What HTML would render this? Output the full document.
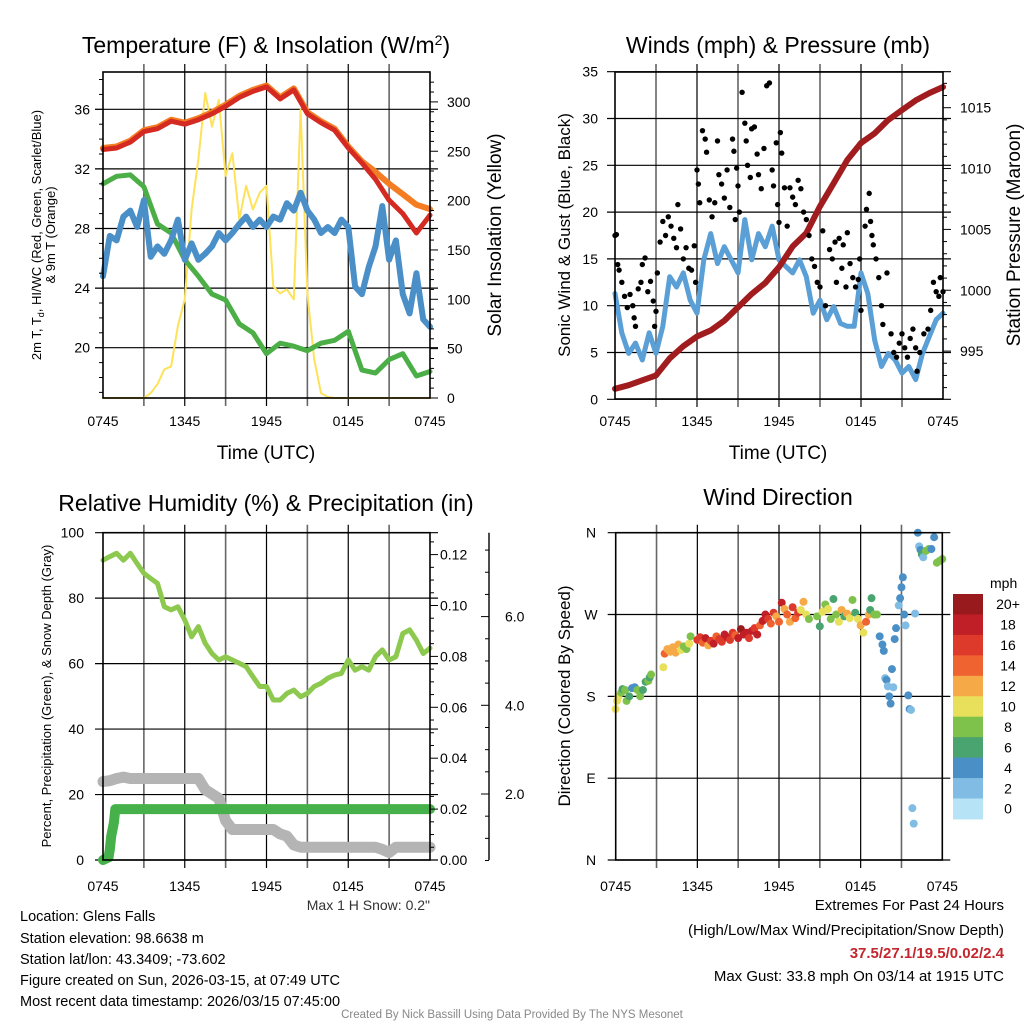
<!DOCTYPE html>
<html><head><meta charset="utf-8">
<style>
html,body{margin:0;padding:0;background:#fff;}
svg{display:block;font-family:"Liberation Sans",Arial,sans-serif;}
</style></head>
<body>
<svg id="fig" width="1024" height="1024" viewBox="0 0 1024 1024" xmlns="http://www.w3.org/2000/svg">
<rect width="1024" height="1024" fill="#fff"/>
<text x="266" y="53" font-size="23" text-anchor="middle">Temperature (F) &amp; Insolation (W/m<tspan baseline-shift="super" font-size="14">2</tspan>)</text>
<text x="778" y="53" font-size="23" text-anchor="middle">Winds (mph) &amp; Pressure (mb)</text>
<text x="266" y="511" font-size="23" text-anchor="middle">Relative Humidity (%) &amp; Precipitation (in)</text>
<text x="778" y="505" font-size="23" text-anchor="middle">Wind Direction</text>
<text x="266" y="459" font-size="19" text-anchor="middle">Time (UTC)</text>
<text x="778" y="459" font-size="19" text-anchor="middle">Time (UTC)</text>
<text transform="translate(41,235) rotate(-90)" font-size="13" text-anchor="middle">2m T, T<tspan font-size="9" dy="3">d</tspan><tspan dy="-3">, HI/WC (Red, Green, Scarlet/Blue)</tspan></text>
<text transform="translate(55,235) rotate(-90)" font-size="13" text-anchor="middle">&amp; 9m T (Orange)</text>
<text transform="translate(501,235) rotate(-90)" font-size="19" text-anchor="middle">Solar Insolation (Yellow)</text>
<text transform="translate(570,235) rotate(-90)" font-size="17" text-anchor="middle">Sonic Wind &amp; Gust (Blue, Black)</text>
<text transform="translate(1020,235) rotate(-90)" font-size="19" text-anchor="middle">Station Pressure (Maroon)</text>
<text transform="translate(51,696) rotate(-90)" font-size="13" text-anchor="middle">Percent, Precipitation (Green), &amp; Snow Depth (Gray)</text>
<text transform="translate(570,696) rotate(-90)" font-size="17" text-anchor="middle">Direction (Colored By Speed)</text>
<text x="430" y="910" font-size="14" text-anchor="end" fill="#333">Max 1 H Snow: 0.2"</text>
<g font-size="14.5">
<text x="20" y="921">Location: Glens Falls</text>
<text x="20" y="943">Station elevation: 98.6638 m</text>
<text x="20" y="964">Station lat/lon: 43.3409; -73.602</text>
<text x="20" y="985">Figure created on Sun, 2026-03-15, at 07:49 UTC</text>
<text x="20" y="1006">Most recent data timestamp: 2026/03/15 07:45:00</text>
</g>
<g font-size="15" text-anchor="end">
<text x="1004" y="910">Extremes For Past 24 Hours</text>
<text x="1004" y="935">(High/Low/Max Wind/Precipitation/Snow Depth)</text>
<text x="1004" y="958" fill="#c3272d" font-weight="bold">37.5/27.1/19.5/0.02/2.4</text>
<text x="1004" y="981">Max Gust: 33.8 mph On 03/14 at 1915 UTC</text>
</g>
<text x="512" y="1018" font-size="11.5" text-anchor="middle" fill="#888">Created By Nick Bassill Using Data Provided By The NYS Mesonet</text>
<g id="layer"></g>
</svg>
<script>
// ---- data ----
const hourly = [0,1,2,3,4,5,6,7,8,9,10,11,12,13,14,15,16,17,18,19,20,21,22,23,24];
const half = [0,0.5,1,1.5,2,2.5,3,3.5,4,4.5,5,5.5,6,6.5,7,7.5,8,8.5,9,9.5,10,10.5,11,11.5,12,12.5,13,13.5,14,14.5,15,15.5,16,16.5,17,17.5,18,18.5,19,19.5,20,20.5,21,21.5,22,22.5,23,23.5,24];
const timeLabels = ["0745","1345","1945","0145","0745"];
const tempT = [33.3,33.4,33.8,34.5,34.7,35.2,35.0,35.3,35.7,36.2,36.8,37.2,37.5,36.7,37.3,35.7,35.1,34.6,33.4,32.4,31.3,29.9,29.0,27.7,28.9];
const temp9m = [33.4,33.5,33.9,34.6,34.8,35.3,35.1,35.4,35.8,36.3,36.9,37.3,37.6,36.8,37.4,35.8,35.2,34.7,33.5,32.5,31.8,31.0,30.3,29.6,29.3];
const dewpt = [31.0,31.5,31.6,30.8,28.3,27.7,25.9,24.8,23.6,23.2,21.6,21.0,19.6,20.3,20.1,19.8,20.3,20.5,21.1,18.5,18.3,19.2,19.6,18.1,18.4];
const windChill = [24.8,27.5,27.2,28.8,29.2,28.1,29.9,26.1,26.8,26.3,27.2,28.6,25.9,27.0,25.9,26.3,26.8,27.7,27.2,27.7,28.3,28.8,28.1,28.6,28.1,28.8,28.6,29.7,29.2,30.4,29.2,28.6,27.7,28.1,27.7,28.6,28.1,24.1,23.6,25.4,26.8,29.5,25.9,27.2,23.6,22.3,25.0,21.9,21.4];
const insolation = [0,0,0,0,0,0,0,5,14,29,32,73,100,191,242,309,275,302,225,248,181,215,191,208,215,113,106,110,100,292,106,39,5,1,0,0,0,0,0,0,0,0,0,0,0,0,0,0,0];
const windSpeed = [11.3,7.1,4.9,6.0,4.2,7.1,4.9,7.8,13.1,12.0,13.5,10.6,9.2,14.9,17.7,14.5,16.3,14.9,13.5,19.2,14.9,17.7,16.3,18.5,14.9,14.2,13.5,14.9,13.1,9.2,10.6,8.5,9.9,8.1,7.8,7.8,13.5,11.3,6.3,3.5,4.9,4.2,2.8,3.5,2.1,4.9,6.7,8.5,9.2];
const pressure = [991.9,992.2,992.6,993.0,994.4,995.4,996.2,996.7,997.5,998.6,999.7,1000.6,1001.9,1003.6,1004.7,1006.9,1008.8,1010.7,1012.1,1012.9,1014.0,1014.8,1015.6,1016.2,1016.7];
const gustHour = [0,0.1,0.2,0.3,0.5,0.7,0.9,1.1,1.3,1.4,1.5,1.7,1.9,2.0,2.2,2.4,2.6,2.8,2.9,3.0,3.1,3.3,3.5,3.7,3.9,4.1,4.3,4.5,4.6,4.8,5.0,5.2,5.4,5.6,5.8,5.9,6.0,6.1,6.2,6.4,6.6,6.7,6.9,7.1,7.3,7.5,7.6,7.8,8.0,8.2,8.4,8.6,8.7,8.8,8.9,9.0,9.1,9.3,9.5,9.6,9.7,9.9,10.0,10.2,10.4,10.5,10.7,10.9,11.1,11.3,11.5,11.6,11.8,11.9,12.0,12.1,12.2,12.4,12.6,12.8,13.0,13.2,13.4,13.6,13.8,14.0,14.2,14.4,14.6,14.8,15.0,15.2,15.4,15.7,15.9,16.1,16.2,16.4,16.6,16.7,16.9,17.0,17.2,17.4,17.6,17.8,17.9,18.0,18.3,18.4,18.6,18.7,18.8,18.9,19.1,19.3,19.5,19.6,19.9,20.2,20.4,20.6,20.8,21.0,21.2,21.4,21.6,21.8,22.0,22.1,22.3,22.6,22.9,23.1,23.3,23.5,23.7,23.8,24.0];
const gustMph = [17.5,17.6,14.4,13.8,12.5,11.0,9.8,11.2,10.0,8.7,7.8,11.8,12.5,14.4,15.1,11.5,12.6,10.5,7.8,9.4,13.5,16.8,19.0,17.5,19.5,18.5,17.2,16.2,20.8,18.2,15.0,16.2,14.0,13.8,16.4,12.5,24.5,23.0,21.0,28.7,27.8,26.4,21.3,19.5,21.0,27.6,24.0,23.0,21.5,24.5,20.5,27.8,26.5,19.2,24.7,22.8,20.0,32.8,29.5,27.6,25.0,23.7,28.9,29.1,26.2,24.0,22.5,26.8,33.5,33.8,24.5,22.8,27.4,20.8,18.9,28.5,26.3,22.6,18.5,22.6,21.6,20.8,23.4,22.5,20.0,19.2,17.5,15.0,14.2,12.5,12.0,18.0,10.0,16.0,15.0,16.8,12.5,17.2,14.0,16.5,12.0,17.8,14.5,13.0,12.0,12.8,15.0,9.5,18.5,20.3,22.0,19.0,17.5,16.5,15.0,13.0,10.0,8.0,13.5,7.0,5.0,4.5,6.0,7.0,5.5,4.5,6.5,7.5,5.5,3.0,5.0,7.0,7.5,9.5,12.5,11.5,11.0,13.0,11.5];
const rh = [91.6,92.7,93.7,91.6,93.7,90.6,87.6,86.0,84.5,77.4,76.4,77.4,73.3,68.2,71.3,66.2,63.1,61.1,62.1,61.1,60.1,59.1,56.0,53.0,53.0,48.9,48.9,50.9,51.9,49.9,50.9,53.0,54.0,55.5,56.5,57.0,61.1,58.0,59.1,58.0,62.1,64.2,61.1,62.1,69.2,70.3,67.2,63.1,64.7];
const snowDepth = [2.28,2.3,2.35,2.38,2.35,2.35,2.35,2.35,2.35,2.35,2.35,2.35,2.35,2.35,2.35,2.1,2.0,1.9,1.4,1.2,1.2,1.2,1.2,1.2,1.2,1.2,1.1,1.05,0.85,0.8,0.8,0.8,0.8,0.8,0.8,0.8,0.8,0.8,0.8,0.8,0.8,0.75,0.68,0.8,0.8,0.8,0.8,0.8,0.8];
const precipHour = [0,0.2,0.4,0.5,0.6,0.8,0.9,1.0,2,4,6,8,10,12,14,16,18,20,22,24];
const precip = [0,0.0005,0.001,0.004,0.0093,0.0147,0.02,0.02,0.02,0.02,0.02,0.02,0.02,0.02,0.02,0.02,0.02,0.02,0.02,0.02];
const dirHour = [0.0,0.1,0.2,0.4,0.5,0.7,0.8,1.0,1.2,1.4,1.6,1.8,2.0,2.2,2.4,2.5,2.6,3.5,3.6,3.8,4.0,4.2,4.4,4.6,4.8,5.0,5.2,5.4,5.5,6.0,6.2,6.4,6.6,6.8,7.0,7.2,7.4,7.6,7.8,8.0,8.2,8.4,8.6,8.8,9.0,9.2,9.4,9.6,9.8,10.0,10.2,10.4,10.6,10.8,11.0,11.2,11.4,11.6,11.8,12.0,12.2,12.4,12.6,12.8,13.0,13.2,13.4,13.6,13.8,14.0,14.2,14.8,15.0,15.2,15.4,15.6,15.8,16.0,16.2,16.4,16.6,16.8,17.0,17.2,17.4,17.6,17.8,18.0,18.2,18.4,18.6,18.7,18.8,19.0,19.2,19.4,19.6,19.7,19.8,19.9,20.0,20.1,20.2,20.3,20.4,20.5,20.6,20.8,20.9,21.0,21.1,21.2,21.3,21.5,21.6,21.7,21.8,21.9,22.0,22.2,22.3,22.4,22.5,22.6,22.8,23.0,23.2,23.4,23.6,23.8,24.0];
const dirDeg = [166,175,180,184,188,187,175,180,189,190,187,180,187,196,197,201,204,212,227,232,229,234,228,237,231,235,232,238,246,242,245,239,244,236,241,238,246,243,240,248,245,242,250,247,244,254,248,250,244,252,255,248,258,263,270,265,260,272,268,262,283,276,270,262,278,266,272,275,284,270,265,268,257,273,281,276,265,287,270,262,275,268,271,266,286,272,265,258,250,262,270,275,288,270,270,246,237,230,200,198,191,180,172,210,190,243,255,280,288,300,311,270,258,181,166,165,57,40,271,360,345,341,336,333,340,342,342,355,327,329,331];
const dirSpeed = [10,10,10,7,6,7,8,6,4,4,7,8,6,5,7,6,7,10,14,12,12,12,12,12,10,8,8,10,8,16,16,14,18,12,16,18,14,16,16,18,18,16,16,14,18,20,18,18,16,18,16,18,14,18,18,16,14,16,12,14,18,12,14,12,16,14,16,10,12,10,8,8,6,10,8,10,8,6,8,10,12,6,12,10,8,6,10,12,10,14,12,6,6,8,8,4,4,4,2,4,2,4,4,4,2,4,4,2,4,4,4,4,2,4,4,2,2,2,1,4,2,4,6,2,8,8,4,4,8,8,8];
const speedBins = ["0","2","4","6","8","10","12","14","16","18","20+"];
const binColors = ["#b6e3f6","#80bce4","#4a8fc6","#4aa46f","#7fc24b","#e8e05a","#f6a947","#ef6330","#de3a2c","#c11f27","#981a1c"];

// ---- helpers ----
const NS="http://www.w3.org/2000/svg";
const layer=document.getElementById('layer');
function mk(tag,attrs,parent){const e=document.createElementNS(NS,tag);for(const k in attrs)e.setAttribute(k,attrs[k]);(parent||layer).appendChild(e);return e;}
function txt(x,y,s,size,anchor,parent){const t=mk('text',{x:x,y:y,'font-size':size,'text-anchor':anchor||'middle'},parent);t.textContent=s;return t;}

const P1={x0:103,x1:430,y0:72,y1:398};
const P2={x0:615,x1:943,y0:72,y1:399};
const P3={x0:103,x1:430,y0:532.7,y1:860};
const P4={x0:615.7,x1:942.3,y0:532.7,y1:860};
function xf(P){return h=>P.x0+h*(P.x1-P.x0)/24;}
const x1f=xf(P1),x2f=xf(P2),x3f=xf(P3),x4f=xf(P4);
const yT=t=>347.7-(t-20)*14.9;
const yI=v=>398-v*0.987;
const yW=m=>399.3-m*9.36;
const yP=p=>107.7+(1015-p)*12.17;
const yR=r=>860-r*3.273;
const yPr=v=>860-v/0.02*50.9;
const ySn=s=>882.7-s*44.35;
const yD=d=>860-d*0.9092;

function grid(P,hys,name){
  const g=mk('g',{});
  
  
  for(let i=1;i<8;i++){const x=P.x0+i*(P.x1-P.x0)/8;
    mk('line',{x1:x,x2:x,y1:P.y0-8,y2:P.y1+8,stroke:i%2?'#666':'#000','stroke-width':i%2?1.6:1.2},g);}
  hys.forEach(y=>mk('line',{x1:P.x0-8,x2:P.x1+8,y1:y,y2:y,stroke:'#000','stroke-width':1.2},g));
  return g;
}
function frame(P,name){
  const r=mk('rect',{x:P.x0,y:P.y0,width:P.x1-P.x0,height:P.y1-P.y0,fill:'none',stroke:'#000','stroke-width':1.6});
  
  
}
function xlabels(P,xfun,y,name){
  const g=mk('g',{});
  
  
  timeLabels.forEach((s,i)=>txt(xfun(i*6),y,s,14,'middle',g));
}
function line(xs,ys,xfun,yfun,color,w,name){
  const d=xs.map((h,i)=>(i?'L':'M')+xfun(h).toFixed(1)+','+yfun(ys[i]).toFixed(1)).join('');
  const p=mk('path',{d:d,fill:'none',stroke:color,'stroke-width':w,'stroke-linejoin':'round','stroke-linecap':'round'});
  
  
  return p;
}
function colorFor(s){return binColors[Math.max(0,Math.min(10,Math.round(s/2)))];}

// ---- Panel 1 ----
const tTicks=[20,24,28,32,36];
grid(P1,tTicks.map(yT),'temp-grid');
line(half,insolation,x1f,yI,'#fde25a',2,'insolation-line');
line(hourly,dewpt,x1f,yT,'#4bae46',5,'dewpoint-line');
line(half,windChill,x1f,yT,'#4a8fc8',6,'windchill-line');
line(hourly,temp9m,x1f,yT,'#f47c22',6,'temp-9m-line');
line(hourly,tempT,x1f,yT,'#d42a22',5,'temp-2m-line');
frame(P1,'temp-plot-frame');
{const g=mk('g',{});
 tTicks.forEach(t=>txt(90,yT(t)+5,String(t),14,'end',g));
 for(let t=17;t<=38;t++){mk('line',{x1:P1.x0-(t%4?4:8),x2:P1.x0,y1:yT(t),y2:yT(t),stroke:'#000'},g);}
}
{const g=mk('g',{});
 [0,50,100,150,200,250,300].forEach(v=>{txt(447,yI(v)+5,String(v),14,'start',g);mk('line',{x1:P1.x1,x2:P1.x1+8,y1:yI(v),y2:yI(v),stroke:'#000'},g);});
 for(let v=10;v<330;v+=10){if(v%50)mk('line',{x1:P1.x1,x2:P1.x1+4,y1:yI(v),y2:yI(v),stroke:'#000'},g);}
}
xlabels(P1,x1f,426,'temp-x-labels');

// ---- Panel 2 ----
const wTicks=[0,5,10,15,20,25,30,35];
grid(P2,wTicks.map(yW),'wind-grid');
line(half,windSpeed,x2f,yW,'#5a9fd6',5,'wind-speed-line');
line(hourly,pressure,x2f,yP,'#a11c1e',6,'pressure-line');
gustHour.forEach((h,i)=>{const c=mk('circle',{cx:x2f(h),cy:yW(gustMph[i]),r:2.7,fill:'#000'});
 
 });
frame(P2,'wind-plot-frame');
{const g=mk('g',{});
 wTicks.forEach(t=>txt(598,yW(t)+5,String(t),14,'end',g));}
{const g=mk('g',{});
 [995,1000,1005,1010,1015].forEach(p=>{txt(960,yP(p)+5,String(p),14,'start',g);mk('line',{x1:P2.x1,x2:P2.x1+8,y1:yP(p),y2:yP(p),stroke:'#000'},g);});
 for(let p=992;p<=1017;p++){if(p%5)mk('line',{x1:P2.x1,x2:P2.x1+4,y1:yP(p),y2:yP(p),stroke:'#000'},g);}
}
xlabels(P2,x2f,426,'wind-x-labels');

// ---- Panel 3 ----
const rTicks=[0,20,40,60,80,100];
grid(P3,rTicks.map(yR),'rh-grid');
line(half,snowDepth,x3f,ySn,'#b4b4b4',11,'snow-depth-line');
line(precipHour,precip,x3f,yPr,'#46b04a',10,'precip-line');
line(half,rh,x3f,yR,'#8dc94e',5,'rh-line');
frame(P3,'rh-plot-frame');
{const g=mk('g',{});
 rTicks.forEach(t=>txt(84,yR(t)+5,String(t),14,'end',g));}
{const g=mk('g',{});
 ['0.00','0.02','0.04','0.06','0.08','0.10','0.12'].forEach(s=>{const v=parseFloat(s);txt(440,yPr(v)+5,s,14,'start',g);mk('line',{x1:P3.x1,x2:P3.x1+8,y1:yPr(v),y2:yPr(v),stroke:'#000'},g);});
 for(let k=1;k<26;k++){if(k%4)mk('line',{x1:P3.x1,x2:P3.x1+4,y1:yPr(k*0.005),y2:yPr(k*0.005),stroke:'#000'},g);}
}
{const g=mk('g',{});
 mk('line',{x1:489,x2:489,y1:532.7,y2:860,stroke:'#000','stroke-width':1.4},g);
 ['2.0','4.0','6.0'].forEach(s=>{const v=parseFloat(s);txt(505,ySn(v)+5,s,14,'start',g);mk('line',{x1:489,x2:481,y1:ySn(v),y2:ySn(v),stroke:'#000'},g);});
 for(let k=1;k<=15;k++){const v=k*0.5;if(v%2&&ySn(v)>533)mk('line',{x1:489,x2:485,y1:ySn(v),y2:ySn(v),stroke:'#000'},g);}
}
xlabels(P3,x3f,891,'rh-x-labels');

// ---- Panel 4 ----
const dTicks=[0,90,180,270,360];
const dLabels=["N","E","S","W","N"];
grid(P4,dTicks.map(yD),'direction-grid');
dirHour.forEach((h,i)=>{const c=mk('circle',{cx:x4f(h),cy:yD(dirDeg[i]),r:4,fill:colorFor(dirSpeed[i])});
 
 });
frame(P4,'direction-plot-frame');
{const g=mk('g',{});
 dTicks.forEach((d,i)=>txt(591,yD(d)+5,dLabels[i],14,'middle',g));}
xlabels(P4,x4f,891,'direction-x-labels');

{const g=mk('g',{});
 const top=594,bh=20.45;
 txt(990,588,'mph',14,'start',g);
 for(let i=0;i<11;i++){const idx=10-i;
  mk('rect',{x:953,y:top+i*bh,width:30,height:bh+0.5,fill:binColors[idx]},g);
  txt(1008,top+i*bh+bh/2+5,speedBins[idx],14,'middle',g);}
}
</script>
</body></html>
